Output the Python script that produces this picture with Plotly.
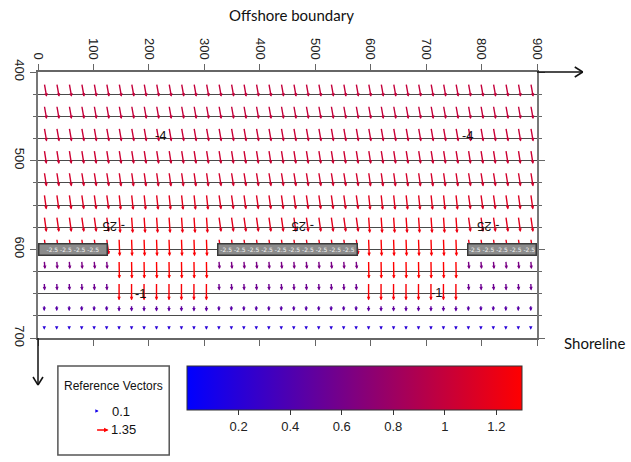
import plotly.graph_objects as go
import math

# ---------------- data ----------------
x_cols = [11.25 + 22.5 * i for i in range(40)]          # grid column centres (m)
y_rows = [412.5, 437.5, 462.5, 487.5, 512.5, 537.5, 562.5, 587.5, 612.5, 637.5, 662.5, 687.5]
speed_lee = [1.00, 1.00, 1.02, 1.04, 1.07, 1.12, 1.15, 1.18, 0.62, 0.56, 0.45, 0.20]
speed_gap = [1.00, 1.00, 1.02, 1.04, 1.08, 1.15, 1.22, 1.28, 1.30, 1.27, 0.48, 0.21]
angle_lee = [10, 10, 10, 9, 9, 8, 8, 8, 5, 3, 0, 0]      # deg from vertical, + = to the right
angle_gap = [10, 10, 10, 9, 8, 6, 4, 2, 1, 0, 0, 0]
gap_cols = list(range(6, 14)) + list(range(26, 34))

bw_x0 = [0, 324, 774]
bw_x1 = [125, 577, 900]
bw_y = 600

contour_text = ["-4", "-4", "- 25", "- 25", "- 25", "-1", "-1"]
contour_x = [222, 776, 138, 478, 813, 186, 719]
contour_y = [472, 472, 575, 575, 575, 650, 649]
contour_rot = [0, 0, 180, 180, 180, 0, 0]

cb_ticks = [0.2, 0.4, 0.6, 0.8, 1.0, 1.2]
cb_labels = ["0.2", "0.4", "0.6", "0.8", "1", "1.2"]
cmax = 1.3

# ---------------- layout geometry ----------------
W, H = 631, 462
L, R, T, B = 35, 94, 72, 124
PW, PH = W - L - R, H - T - B
px_x = PW / 900.0
px_y = PH / 300.0

def px2paper(px, py):
    return (px - L) / PW, (H - B - py) / PH

def col(m):
    t = max(0.0, min(1.0, m / cmax))
    return "rgb(%d,0,%d)" % (round(255 * t), round(255 * (1 - t)))

K = 14.0  # pixel length per unit speed

fig = go.Figure()
fig.add_trace(go.Scatter(
    x=[450, 450], y=[500, 500], mode="markers",
    marker=dict(size=0.1, color=[0, cmax], cmin=0, cmax=cmax,
                colorscale=[[0, "rgb(0,0,255)"], [1, "rgb(255,0,0)"]],
                showscale=True,
                colorbar=dict(orientation="h", x=px2paper(353.5, 0)[0], xanchor="center",
                              y=px2paper(0, 366)[1], yanchor="top",
                              len=335, lenmode="pixels", thickness=44, thicknessmode="pixels",
                              xpad=0, ypad=0, outlinewidth=1, outlinecolor="#333",
                              ticks="outside", ticklen=5, tickcolor="#333",
                              tickvals=cb_ticks, ticktext=cb_labels,
                              tickfont=dict(family="Liberation Sans Narrow, Arial Narrow, sans-serif",
                                            size=13, color="#222"))),
    hoverinfo="skip", showlegend=False))

ann = []
for j, yv in enumerate(y_rows):
    for i, xv in enumerate(x_cols):
        if i in gap_cols:
            m, a = speed_gap[j], angle_gap[j]
        else:
            m, a = speed_lee[j], angle_lee[j]
        lp = m * K
        dx = lp * math.sin(math.radians(a)) / px_x
        dy = lp * math.cos(math.radians(a)) / px_y
        ann.append(dict(x=xv + dx, y=yv + dy, ax=xv, ay=yv, xref="x", yref="y",
                        axref="x", ayref="y", text="", showarrow=True,
                        arrowhead=2, arrowsize=0.5, arrowwidth=1.4,
                        arrowcolor=col(m), standoff=0, startstandoff=0))

for t, xv, yv, r in zip(contour_text, contour_x, contour_y, contour_rot):
    ann.append(dict(x=xv, y=yv, xref="x", yref="y", text=t, showarrow=False,
                    xanchor="center", yanchor="middle",
                    textangle=r, font=dict(family="Liberation Sans, Arial, sans-serif",
                                           size=13, color="#111")))

for x0, x1 in zip(bw_x0, bw_x1):
    wpx = (x1 - x0) * px_x
    n = max(1, int(wpx // 14))
    ann.append(dict(x=(x0 + x1) / 2, y=bw_y, xref="x", yref="y", showarrow=False,
                    xanchor="center", yanchor="middle",
                    text=" ".join(["-2.5"] * n), width=wpx - 3, height=10,
                    bgcolor="#8c8c8c", bordercolor="#3a3a3a", borderwidth=1.5, borderpad=0,
                    font=dict(family="DejaVu Sans", size=6, color="#f4f4f4")))

def ptext(x, y, s, size, fam, anchor="center"):
    px, py = px2paper(x, y)
    ann.append(dict(x=px, y=py, xref="paper", yref="paper", text=s, showarrow=False,
                    xanchor=anchor, yanchor="middle", font=dict(family=fam, size=size, color="#111")))

ptext(290, 15, "Offshore boundary", 15, "Lato, sans-serif")
ptext(595, 343, "Shoreline", 15, "Lato, sans-serif")

nf = "Liberation Sans Narrow, Arial Narrow, sans-serif"
ptext(111, 386, "Reference Vectors", 12, nf)
ptext(107, 411, "0.1", 13, nf, "left")
ptext(106, 430, "1.35", 13, nf, "left")

px, py = px2paper(96, 411)
ann.append(dict(x=px, y=py, xref="paper", yref="paper", ax=-3, ay=0, text="",
                showarrow=True, arrowhead=2, arrowsize=0.55, arrowwidth=1.2,
                arrowcolor=col(0.1), standoff=0))
px, py = px2paper(106, 430)
ann.append(dict(x=px, y=py, xref="paper", yref="paper", ax=-13, ay=0, text="",
                showarrow=True, arrowhead=2, arrowsize=0.6, arrowwidth=1.5,
                arrowcolor=col(1.35), standoff=0))

shapes = []
def pline(p0, p1, color="#111", w=1.5):
    a = px2paper(*p0); b = px2paper(*p1)
    shapes.append(dict(type="line", xref="paper", yref="paper", x0=a[0], y0=a[1],
                       x1=b[0], y1=b[1], line=dict(color=color, width=w)))

pline((537, 72), (583, 72))
pline((583, 72), (575, 67)); pline((583, 72), (575, 77))
pline((35, 338), (35, 385))
pline((35, 385), (30, 377)); pline((35, 385), (40, 377))
a = px2paper(55, 455); b = px2paper(167, 366)
shapes.append(dict(type="rect", xref="paper", yref="paper", x0=a[0], y0=a[1], x1=b[0], y1=b[1],
                   line=dict(color="#555", width=1.5), fillcolor="rgba(0,0,0,0)"))

tickfont = dict(family="Liberation Sans, Arial, sans-serif", size=13, color="#222")
fig.update_layout(
    width=W, height=H, margin=dict(l=L, r=R, t=T, b=B),
    paper_bgcolor="white", plot_bgcolor="white",
    annotations=ann, shapes=shapes, showlegend=False,
    xaxis=dict(range=[0, 900], side="top", dtick=100, tick0=0, showgrid=False, zeroline=False,
               showline=True, linecolor="#666", linewidth=1.5, mirror="ticks",
               ticks="outside", ticklen=6, tickcolor="#666", tickwidth=1.2,
               tickangle=90, tickfont=tickfont),
    yaxis=dict(range=[700, 400], dtick=100, tick0=400, zeroline=False,
               showline=True, linecolor="#777", linewidth=1.5, mirror="ticks",
               ticks="outside", ticklen=6, tickcolor="#666", tickwidth=1.2,
               tickangle=90, tickfont=tickfont,
               showgrid=True, gridcolor="#4a4a4a", gridwidth=1.3,
               minor=dict(dtick=25, showgrid=True, gridcolor="#4a4a4a", gridwidth=1.3,
                          ticks="outside", ticklen=3, tickcolor="#666")),
)

fig.write_html("out.html")
